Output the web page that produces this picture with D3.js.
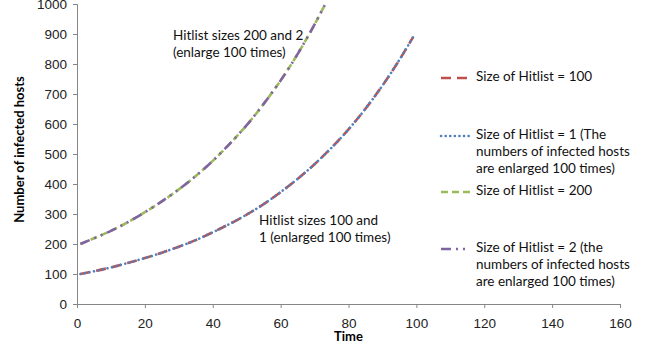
<!DOCTYPE html>
<html>
<head>
<meta charset="utf-8">
<script src="https://cdn.jsdelivr.net/npm/d3@7"></script>
<style>
  body { margin: 0; background: #fff; }
  svg { display: block; font-family: Lato, "Open Sans", sans-serif; }
</style>
</head>
<body>
<div id="chart"></div>
<script>
// time points
const timesLow = [1, 5, 10, 15, 20, 25, 30, 35, 40, 45, 50, 55, 60, 65, 70, 75, 80, 85, 90, 95, 99];
const timesHigh = [1, 5, 10, 15, 20, 25, 30, 35, 40, 45, 50, 55, 60, 65, 70, 73];

// infected hosts (sizes 1 and 2 are already enlarged 100 times)
const hitlist100 = [100, 109, 122, 137, 153, 171, 191, 213, 239, 267, 298, 333, 373, 417, 466, 521, 582, 651, 728, 814, 889];
const hitlist1 = [100, 109, 122, 137, 153, 171, 191, 213, 239, 267, 298, 333, 373, 417, 466, 521, 582, 651, 728, 814, 889];
const hitlist200 = [200, 219, 244, 273, 306, 342, 382, 427, 477, 534, 596, 667, 745, 833, 932, 996];
const hitlist2 = [200, 219, 244, 273, 306, 342, 382, 427, 477, 534, 596, 667, 745, 833, 932, 996];

const xTicks = [0, 20, 40, 60, 80, 100, 120, 140, 160];
const yTicks = [0, 100, 200, 300, 400, 500, 600, 700, 800, 900, 1000];

const legendLabels = [
  ['Size of Hitlist = 100'],
  ['Size of Hitlist = 1 (The', 'numbers of infected hosts', 'are enlarged 100 times)'],
  ['Size of Hitlist = 200'],
  ['Size of Hitlist = 2 (the', 'numbers of infected hosts', 'are enlarged 100 times)']
];

const series = [
  { t: timesLow, v: hitlist100, color: '#C0504D', dash: '10,6', cap: 'butt' },
  { t: timesLow, v: hitlist1, color: '#4F81BD', dash: '0.1,4.5', cap: 'round' },
  { t: timesHigh, v: hitlist200, color: '#9BBB59', dash: '7,4', cap: 'butt' },
  { t: timesHigh, v: hitlist2, color: '#8064A2', dash: '10,5,2,5,2,5', cap: 'butt' }
];

const [w, h] = [652, 349];
const fs = '13.5px';
const svg = d3.select('#chart').append('svg').attr('width', w).attr('height', h);

const x = d3.scaleLinear().domain([0, 160]).range([77, 620]);
const y = d3.scaleLinear().domain([0, 1000]).range([304, 4]);
const axisColor = '#868686';

const xAxis = svg.append('g')
  .attr('transform', `translate(0,${y(0)})`)
  .call(d3.axisBottom(x).tickValues(xTicks).tickFormat(d3.format('d')).tickSize(4).tickPadding(10));
const yAxis = svg.append('g')
  .attr('transform', `translate(${x(0)},0)`)
  .call(d3.axisLeft(y).tickValues(yTicks).tickFormat(d3.format('d')).tickSize(4).tickPadding(6));
[xAxis, yAxis].forEach(a => {
  a.select('.domain').attr('stroke', axisColor);
  a.selectAll('.tick line').attr('stroke', axisColor);
  a.selectAll('.tick text').attr('fill', '#222').style('font-size', fs);
});

svg.append('text')
  .attr('transform', `translate(24,${y(515)}) rotate(-90)`)
  .attr('text-anchor', 'middle')
  .style('font-size', '13px').style('font-weight', 'bold')
  .text('Number of infected hosts');
svg.append('text')
  .attr('x', x(80)).attr('y', 341)
  .attr('text-anchor', 'middle')
  .style('font-size', '13px').style('font-weight', 'bold')
  .text('Time');

const line = d3.line().curve(d3.curveMonotoneX);
series.forEach(s => {
  svg.append('path')
    .attr('d', line(s.t.map((t, i) => [x(t), y(s.v[i])])))
    .attr('fill', 'none')
    .attr('stroke', s.color)
    .attr('stroke-width', 2.6)
    .attr('stroke-dasharray', s.dash)
    .attr('stroke-linecap', s.cap);
});

// annotations
const notes = [
  { x: 173, y: 37, lines: ['Hitlist sizes 200 and 2', '(enlarge 100 times)'] },
  { x: 259, y: 222, lines: ['Hitlist sizes 100 and', '1 (enlarged 100 times)'] }
];
notes.forEach(n => {
  const t = svg.append('text').attr('x', n.x).attr('y', n.y)
    .attr('dominant-baseline', 'middle').style('font-size', fs).attr('fill', '#111');
  n.lines.forEach((l, i) => t.append('tspan').attr('x', n.x).attr('dy', i ? 17 : 0).text(l));
});

// legend
const legendRows = [78, 136, 192, 249];
legendLabels.forEach((lines, i) => {
  const g = svg.append('g').attr('transform', `translate(0,${legendRows[i]})`);
  g.append('line')
    .attr('x1', 441).attr('x2', 470).attr('y1', 0).attr('y2', 0)
    .attr('stroke', series[i].color).attr('stroke-width', 2.6)
    .attr('stroke-dasharray', series[i].dash)
    .attr('stroke-linecap', series[i].cap);
  const t = g.append('text').attr('x', 476).attr('y', 0)
    .attr('dominant-baseline', 'middle').style('font-size', fs).attr('fill', '#111');
  lines.forEach((l, j) => t.append('tspan').attr('x', 476).attr('dy', j ? 17 : 0).text(l));
});
</script>
</body>
</html>
